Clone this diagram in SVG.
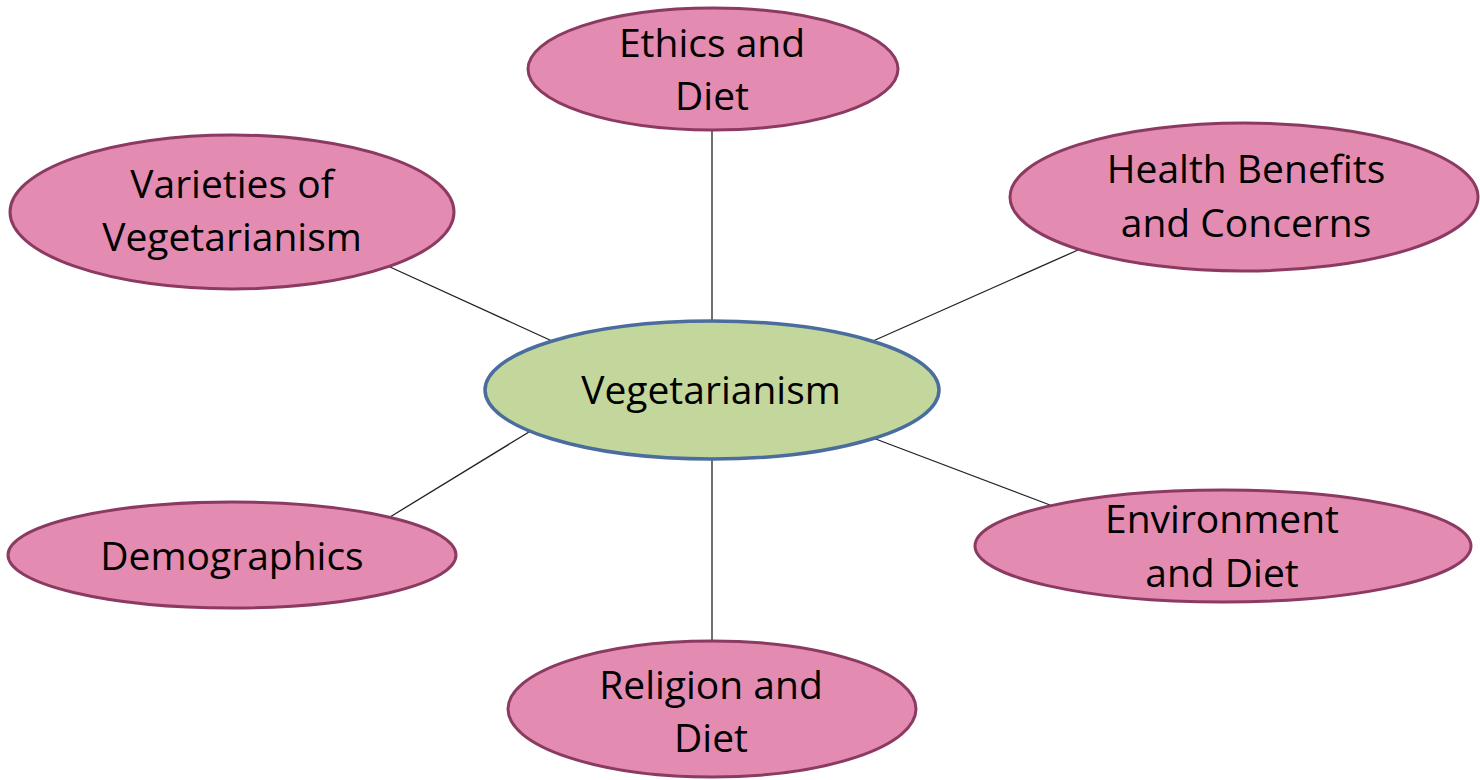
<svg xmlns="http://www.w3.org/2000/svg" width="1480" height="780" viewBox="0 0 1480 780">
  <style>
    .bg { fill: #ffffff; }
    .link { stroke: #222222; stroke-width: 1.3; fill: none; }
    .topic { fill: #e48bb1; stroke: #8b3a62; stroke-width: 3; }
    .hub { fill: #c3d69b; stroke: #4a6d9e; stroke-width: 3.5; }
    .label { font-family: "Open Sans", "Liberation Sans", sans-serif; font-size: 39px; fill: #000000; text-anchor: middle; }
  </style>
  <rect class="bg" x="0" y="0" width="1480" height="780"/>

  <!-- spokes from the hub to each topic -->
  <g id="connectors">
    <line class="link" x1="712" y1="130" x2="712" y2="321"/>
    <line class="link" x1="390" y1="267" x2="552" y2="341"/>
    <line class="link" x1="1078" y1="250" x2="873" y2="341"/>
    <line class="link" x1="390" y1="517" x2="529" y2="432"/>
    <line class="link" x1="1050" y1="505" x2="873" y2="438"/>
    <line class="link" x1="712" y1="459" x2="712" y2="641"/>
  </g>

  <g id="hub">
    <ellipse class="hub" cx="712" cy="390" rx="227" ry="69"/>
    <text class="label" x="711" y="404">Vegetarianism</text>
  </g>

  <g id="ethics">
    <ellipse class="topic" cx="713" cy="69" rx="185" ry="61"/>
    <text class="label" x="712" y="57">Ethics and</text>
    <text class="label" x="712" y="110">Diet</text>
  </g>

  <g id="varieties">
    <ellipse class="topic" cx="232" cy="212" rx="222" ry="77"/>
    <text class="label" x="232" y="198">Varieties of</text>
    <text class="label" x="232" y="251">Vegetarianism</text>
  </g>

  <g id="health">
    <ellipse class="topic" cx="1244" cy="197" rx="234" ry="74"/>
    <text class="label" x="1246" y="183">Health Benefits</text>
    <text class="label" x="1246" y="237">and Concerns</text>
  </g>

  <g id="demographics">
    <ellipse class="topic" cx="232" cy="555" rx="224" ry="53"/>
    <text class="label" x="232" y="570">Demographics</text>
  </g>

  <g id="environment">
    <ellipse class="topic" cx="1223" cy="546" rx="248" ry="56"/>
    <text class="label" x="1222" y="533">Environment</text>
    <text class="label" x="1222" y="587">and Diet</text>
  </g>

  <g id="religion">
    <ellipse class="topic" cx="712" cy="709" rx="204" ry="68"/>
    <text class="label" x="711" y="699">Religion and</text>
    <text class="label" x="711" y="752">Diet</text>
  </g>
</svg>
